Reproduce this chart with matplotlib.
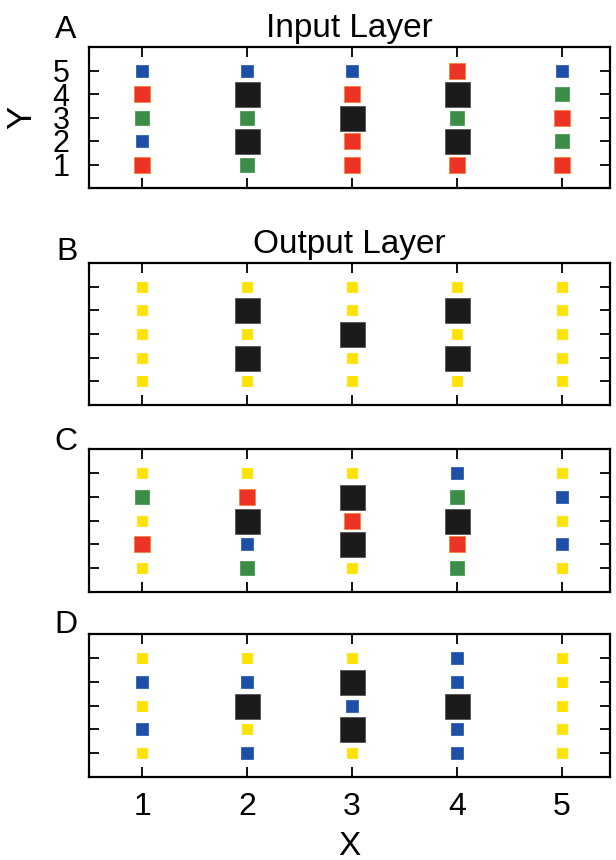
import matplotlib
matplotlib.use("Agg")
import matplotlib.pyplot as plt

plt.rcParams['font.family'] = ['Liberation Sans', 'DejaVu Sans']

# Data: each panel is a grid of colour codes, rows from Y=5 (top) to Y=1, columns X=1..5
x_vals = [1, 2, 3, 4, 5]
y_vals = [5, 4, 3, 2, 1]
panel_labels = ["A", "B", "C", "D"]
panel_titles = ["Input Layer", "Output Layer", "", ""]

grid_A = ["BBBRB",
          "RKRKG",
          "GGKGR",
          "BKRKG",
          "RGRRR"]
grid_B = ["YYYYY",
          "YKYKY",
          "YYKYY",
          "YKYKY",
          "YYYYY"]
grid_C = ["YYYBY",
          "GRKGB",
          "YKRKY",
          "RBKRB",
          "YGYGY"]
grid_D = ["YYYBY",
          "BBKBY",
          "YKBKY",
          "BYKBY",
          "YBYBY"]
grids = [grid_A, grid_B, grid_C, grid_D]

x_ticks = [1, 2, 3, 4, 5]
y_ticks = [1, 2, 3, 4, 5]

# styles
colors = {"B": "#1d4fa6", "R": "#ec3326", "G": "#3a8c47", "Y": "#ffe300", "K": "#1c1a1a"}
sizes = {"B": 8.6, "R": 12.2, "G": 10.2, "Y": 6.6, "K": 18.0}
edges = {"B": "#3060b0", "R": "#f2863a", "G": "#4a9a55", "Y": "#ffe300", "K": "#555555"}
draw_order = ["Y", "B", "G", "R", "K"]

fig = plt.figure(figsize=(6.16, 8.6), dpi=100)

W, H = 616.0, 860.0
left_px, right_px = 89, 610
boxes = [(47, 188), (263, 405), (449, 592), (634, 777)]
label_pos = [(66, 30), (67, 252), (66, 442), (66, 625)]

for i, (grid, (top, bot)) in enumerate(zip(grids, boxes)):
    ax = fig.add_axes([left_px / W, 1 - bot / H, (right_px - left_px) / W, (bot - top) / H])
    for code in draw_order:
        xs, ys = [], []
        for r, row in enumerate(grid):
            for c, ch in enumerate(row):
                if ch == code:
                    xs.append(x_vals[c])
                    ys.append(y_vals[r])
        if xs:
            ax.plot(xs, ys, linestyle="none", marker="s", ms=sizes[code],
                    markerfacecolor=colors[code], markeredgecolor=edges[code],
                    markeredgewidth=0.6, zorder=3)
    ax.set_xlim(0.49, 5.46)
    ax.set_ylim(0, 6)
    ax.set_xticks(x_ticks)
    ax.set_yticks(y_ticks)
    ax.tick_params(direction="in", length=7.5, width=1.3, top=True, right=True,
                   labelsize=23)
    for s in ax.spines.values():
        s.set_linewidth(1.6)
    if i == 0:
        ax.tick_params(axis="y", labelsize=22, pad=14)
        ax.set_ylabel("Y", fontsize=25)
        ax.yaxis.set_label_coords(-0.098, 0.5)
    else:
        ax.set_yticklabels([])
    if i == 3:
        ax.tick_params(axis="x", pad=11)
        ax.set_xlabel("X", fontsize=24, labelpad=6)
    else:
        ax.set_xticklabels([])
    if panel_titles[i]:
        ax.set_title(panel_titles[i], fontsize=24, pad=7)
    fig.text(label_pos[i][0] / W, 1 - label_pos[i][1] / H, panel_labels[i],
             fontsize=23, ha="center", va="center")

fig.savefig("out.png", dpi=100)
